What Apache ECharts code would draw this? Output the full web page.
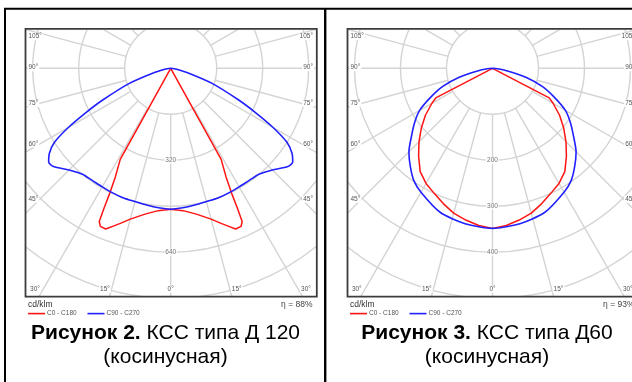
<!DOCTYPE html>
<html><head><meta charset="utf-8">
<script src="https://cdn.jsdelivr.net/npm/echarts@6/dist/echarts.min.js"></script>
<style>
html,body{margin:0;padding:0;width:632px;height:382px;overflow:hidden;background:#fff;}
#c1{position:absolute;left:26px;top:30px;width:290px;height:266px;}
#c2{position:absolute;left:348px;top:30px;width:290px;height:266px;}
#ov{position:absolute;left:0;top:0;width:632px;height:382px;pointer-events:none;}
</style></head><body>
<div id="c1"></div><div id="c2"></div><div id="ov"></div>
<script>
// ---------- data (gamma from nadir in degrees, intensity in cd/klm) ----------
const d120C0Angles  = [0, 5, 10, 15, 18, 20, 22, 24, 25, 25.5, 26, 27, 29, 90];
const d120C0Values  = [490, 497, 515, 543, 567, 584, 603, 602, 588, 539, 483, 424, 362, 0];
const d120C90Angles = [0, 5, 10, 15, 20, 25, 30, 35, 40, 45, 50, 52.5, 55, 57.5, 60, 62.5, 65, 70, 75, 80, 85, 90];
const d120C90Values = [490, 487, 483, 480, 480, 478, 476, 476, 480, 500, 532, 535, 515, 480, 410, 330, 261, 153, 63, 24, 7, 0];

const d60C0Angles  = [0, 5, 10, 15, 20, 25, 30, 35, 40, 45, 50, 55, 60, 62.5, 90];
const d60C0Values  = [348, 343, 335, 326, 313, 300, 289, 274, 250, 226, 202, 178, 152, 139, 0];
const d60C90Angles = [0, 10, 20, 30, 35, 40, 45, 50, 55, 60, 65, 70, 75, 80, 85, 90];
const d60C90Values = [348, 343, 333, 311, 298, 278, 257, 230, 207, 183, 148, 115, 75, 33, 11, 0];

const d120RadialLabels = [320, 640];
const d60RadialLabels  = [200, 300, 400];
const sideAngleLabels   = ['105°', '90°', '75°', '60°', '45°'];
const bottomAngleLabels = ['30°', '15°', '0°', '15°', '30°'];
const legendNames = ['C0 - C180', 'C90 - C270'];
const unitLabel = 'cd/klm';
const etaLabels = ['η = 88%', 'η = 93%'];
const captionBold = ['Рисунок 2.', 'Рисунок 3.'];
const captionRest = [' КСС типа Д 120', ' КСС типа Д60'];
const captionLine2 = ['(косинусная)', '(косинусная)'];

// ---------- layout ----------
const RED = '#ff1414', BLUE = '#2020ff', GRID = '#d4d4d4', LBL = '#555';
const sideDy = [-31.6, -0.6, 35, 75.7, 131];
const bottomDx = [-135.7, -65.7, 0, 66, 135.3];

function curve(angles, values) {
  const pts = [];
  for (let i = angles.length - 1; i >= 1; i--) pts.push([values[i], 360 - angles[i]]);
  for (let i = 0; i < angles.length; i++) pts.push([values[i], angles[i]]);
  return pts;
}

function makePolar(id, cfg) {
  const ch = echarts.init(document.getElementById(id));
  const W = 290, H = 266;
  const cx = cfg.cx, cy = cfg.cy;
  const graphics = [];
  sideAngleLabels.forEach((t, i) => {
    const common = {fill: LBL, font: '6.5px "Liberation Sans", Arial', backgroundColor: '#fff', padding: [0, 1], verticalAlign: 'middle', textVerticalAlign: 'middle'};
    graphics.push({type: 'text', z: 10, style: Object.assign({text: t, x: 1.5, y: cy + sideDy[i], align: 'left', textAlign: 'left'}, common)});
    graphics.push({type: 'text', z: 10, style: Object.assign({text: t, x: W - 2, y: cy + sideDy[i], align: 'right', textAlign: 'right'}, common)});
  });
  bottomAngleLabels.forEach((t, i) => {
    graphics.push({type: 'text', z: 10, style: {text: t, x: cx + bottomDx[i], y: 259.3, align: 'center', textAlign: 'center', verticalAlign: 'middle', textVerticalAlign: 'middle', fill: LBL, font: '6.5px "Liberation Sans", Arial', backgroundColor: '#fff', padding: [0, 1]}});
  });
  ch.setOption({
    animation: false,
    polar: [
      {center: [cx, cy], radius: [0, 276]},
      {center: [cx, cy], radius: [46, 300]}
    ],
    angleAxis: [
      {polarIndex: 0, type: 'value', min: 0, max: 360, interval: 15, startAngle: 270, clockwise: true,
       axisLine: {show: false}, axisTick: {show: false}, axisLabel: {show: false}, splitLine: {show: false}},
      {polarIndex: 1, type: 'value', min: 0, max: 360, interval: 15, startAngle: 270, clockwise: true,
       axisLine: {show: false}, axisTick: {show: false}, axisLabel: {show: false},
       splitLine: {show: true, lineStyle: {color: GRID, width: 1.4}}}
    ],
    radiusAxis: [
      {polarIndex: 0, type: 'value', min: 0, max: cfg.rmax, interval: cfg.rstep,
       axisLine: {show: false}, axisTick: {show: false}, axisLabel: {show: false},
       splitLine: {show: true, lineStyle: {color: GRID, width: 1.4}}},
      {polarIndex: 1, type: 'value', min: 0, max: 1, interval: 1,
       axisLine: {show: false}, axisTick: {show: false}, axisLabel: {show: false}, splitLine: {show: false}}
    ],
    series: [
      {type: 'line', coordinateSystem: 'polar', polarIndex: 0, data: curve(cfg.redA, cfg.redV), symbol: 'none',
       lineStyle: {color: RED, width: 1.5}, z: 3, silent: true},
      {type: 'line', coordinateSystem: 'polar', polarIndex: 0, data: curve(cfg.blueA, cfg.blueV), symbol: 'none',
       smooth: 0.25, lineStyle: {color: BLUE, width: 1.6}, z: 4, silent: true},
      {type: 'scatter', coordinateSystem: 'polar', polarIndex: 0, data: cfg.radial.map(v => [v, 0]), symbolSize: 1,
       itemStyle: {color: 'rgba(0,0,0,0)'}, z: 6, silent: true,
       label: {show: true, position: 'inside', formatter: p => String(p.value[0]), fontSize: 6.5,
               fontFamily: '"Liberation Sans", Arial', color: LBL, backgroundColor: '#fff', padding: [0, 1]}}
    ],
    graphic: graphics
  });
}

makePolar('c1', {cx: 144.7, cy: 38.3, rmax: 960, rstep: 160, radial: d120RadialLabels,
  redA: d120C0Angles, redV: d120C0Values, blueA: d120C90Angles, blueV: d120C90Values});
makePolar('c2', {cx: 144.5, cy: 38.3, rmax: 600, rstep: 100, radial: d60RadialLabels,
  redA: d60C0Angles, redV: d60C0Values, blueA: d60C90Angles, blueV: d60C90Values});

// ---------- overlay: table, frames, legends, captions ----------
const ov = echarts.init(document.getElementById('ov'));
const els = [];
els.push({type: 'line', shape: {x1: 4, y1: 8.8, x2: 640, y2: 8.8}, style: {stroke: '#000', lineWidth: 2}});
els.push({type: 'line', shape: {x1: 5, y1: 8, x2: 5, y2: 390}, style: {stroke: '#000', lineWidth: 2}});
els.push({type: 'line', shape: {x1: 325.2, y1: 8, x2: 325.2, y2: 390}, style: {stroke: '#000', lineWidth: 2.4}});
const frames = [25.5, 347.5];
const capCx = [165.5, 487];
frames.forEach((fx, k) => {
  els.push({type: 'rect', shape: {x: fx, y: 28.8, width: 291.3, height: 267.9}, style: {stroke: '#3c3c3c', lineWidth: 1.8, fill: 'none'}});
  els.push({type: 'text', style: {text: unitLabel, x: fx + 2.5, y: 305, align: 'left', textAlign: 'left', verticalAlign: 'middle', textVerticalAlign: 'middle', fill: '#333', font: '8.5px "Liberation Sans", Arial'}});
  els.push({type: 'text', style: {text: etaLabels[k], x: fx + 287, y: 305, align: 'right', textAlign: 'right', verticalAlign: 'middle', textVerticalAlign: 'middle', fill: '#444', font: '8.5px "Liberation Sans", Arial'}});
  [RED, BLUE].forEach((c, j) => {
    const lx = fx + 2.5 + j * 59.5;
    els.push({type: 'line', shape: {x1: lx, y1: 313.6, x2: lx + 17, y2: 313.6}, style: {stroke: c, lineWidth: 1.6}});
    els.push({type: 'text', style: {text: legendNames[j], x: lx + 19, y: 313.6, align: 'left', textAlign: 'left', verticalAlign: 'middle', textVerticalAlign: 'middle', fill: '#555', font: '6.5px "Liberation Sans", Arial'}});
  });
  els.push({type: 'text', style: {text: '{b|' + captionBold[k] + '}' + captionRest[k], x: capCx[k], y: 333, align: 'center', textAlign: 'center', verticalAlign: 'middle', textVerticalAlign: 'middle', fill: '#000', font: '21px "Liberation Sans", Arial',
    rich: {b: {fontWeight: 'bold', fontSize: 21, fontFamily: '"Liberation Sans", Arial', fill: '#000'}}}});
  els.push({type: 'text', style: {text: captionLine2[k], x: capCx[k], y: 357.5, align: 'center', textAlign: 'center', verticalAlign: 'middle', textVerticalAlign: 'middle', fill: '#000', font: '21px "Liberation Sans", Arial'}});
});
ov.setOption({animation: false, graphic: els});
</script>
</body></html>
